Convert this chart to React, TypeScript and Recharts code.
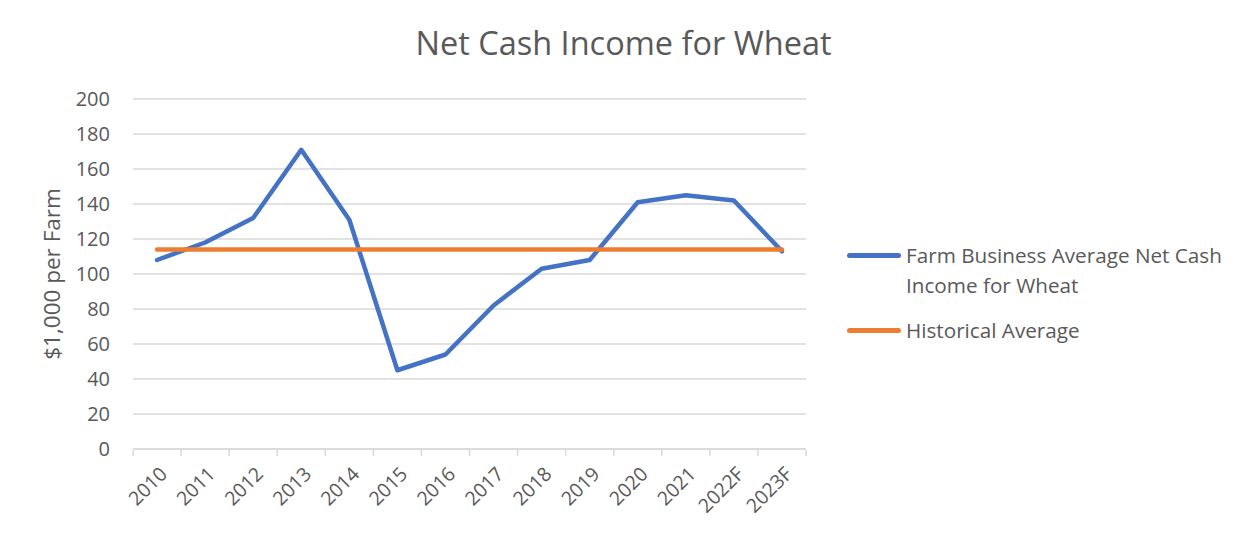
import React from "react";
import { LineChart, Line, XAxis, YAxis, CartesianGrid } from "recharts";

const years = ["2010", "2011", "2012", "2013", "2014", "2015", "2016", "2017", "2018", "2019", "2020", "2021", "2022F", "2023F"];
const netCash = [108, 118, 132, 171, 131, 45, 54, 82, 103, 108, 141, 145, 142, 113];
const historicalAvg = [114, 114, 114, 114, 114, 114, 114, 114, 114, 114, 114, 114, 114, 114];
const yTicks = [0, 20, 40, 60, 80, 100, 120, 140, 160, 180, 200];

const seriesNames = ["Farm Business Average Net Cash Income for Wheat", "Historical Average"];
const seriesColors = ["#4472C4", "#ED7D31"];
const title = "Net Cash Income for Wheat";
const yLabel = "$1,000 per Farm";

const data = years.map((y, i) => ({ year: y, net: netCash[i], avg: historicalAvg[i] }));

const FONT = "'Open Sans', sans-serif";
const TXT = "#595959";
const AXIS = "#d9d9d9";

const XTick = (props: any) => {
  const { x, y, payload, width, visibleTicksCount, index } = props;
  const bw = width / visibleTicksCount;
  const ax = x + 6;
  const ay = y + 19;
  const top = y - 1;
  return (
    <g>
      <line x1={x - bw / 2} x2={x - bw / 2} y1={top} y2={top + 6} stroke={AXIS} strokeWidth={1.5} />
      {index === visibleTicksCount - 1 && (
        <line x1={x + bw / 2} x2={x + bw / 2} y1={top} y2={top + 6} stroke={AXIS} strokeWidth={1.5} />
      )}
      <text
        x={ax}
        y={ay}
        transform={`rotate(-45, ${ax}, ${ay})`}
        textAnchor="end"
        dominantBaseline="central"
        fontFamily={FONT}
        fontSize={19.5}
        fill={TXT}
      >
        {payload.value}
      </text>
    </g>
  );
};

export default function App() {
  return (
    <div style={{ position: "absolute", left: 0, top: 0, width: 1247, height: 543, background: "#fff", fontFamily: FONT }}>
      <div
        style={{
          position: "absolute",
          left: 0,
          width: 1247,
          top: 21,
          textAlign: "center",
          fontSize: 32.5,
          color: TXT,
          fontFamily: FONT,
          lineHeight: "44px",
        }}
      >
        {title}
      </div>
      <LineChart
        width={1247}
        height={543}
        data={data}
        margin={{ top: 99, right: 441, bottom: 14, left: 0 }}
      >
        <CartesianGrid vertical={false} stroke={AXIS} strokeWidth={1.5} />
        <XAxis
          dataKey="year"
          scale="band"
          interval={0}
          height={80}
          stroke={AXIS}
          strokeWidth={1.5}
          tickLine={false}
          tickSize={0}
          tick={<XTick />}
        />
        <YAxis
          domain={[0, 200]}
          ticks={yTicks}
          width={133}
          axisLine={false}
          tickLine={false}
          tickSize={0}
          tickMargin={23}
          tick={{ fontFamily: FONT, fontSize: 20, fill: TXT }}
          label={{
            content: (p: any) => {
              const vb = p.viewBox;
              const cx = vb.x + 51;
              const cy = vb.y + vb.height / 2;
              return (
                <text
                  x={cx}
                  y={cy}
                  transform={`rotate(-90, ${cx}, ${cy})`}
                  textAnchor="middle"
                  dominantBaseline="central"
                  fontFamily={FONT}
                  fontSize={22.5}
                  fill={TXT}
                >
                  {yLabel}
                </text>
              );
            },
          }}
        />
        <Line
          dataKey="net"
          name={seriesNames[0]}
          stroke={seriesColors[0]}
          strokeWidth={4.5}
          dot={false}
          strokeLinecap="round"
          strokeLinejoin="round"
          isAnimationActive={false}
        />
        <Line
          dataKey="avg"
          name={seriesNames[1]}
          stroke={seriesColors[1]}
          strokeWidth={4.5}
          dot={false}
          strokeLinecap="round"
          isAnimationActive={false}
        />
      </LineChart>
      <div style={{ position: "absolute", left: 847, top: 240, width: 395, color: TXT, fontSize: 20.7, fontFamily: FONT }}>
        {[0, 1].map((i) => (
          <div key={i} style={{ position: "relative", paddingLeft: 59, lineHeight: "30px", marginBottom: 15 }}>
            <div
              style={{
                position: "absolute",
                left: 0,
                top: 13,
                width: 54,
                height: 5,
                borderRadius: 3,
                background: seriesColors[i],
              }}
            />
            {seriesNames[i]}
          </div>
        ))}
      </div>
    </div>
  );
}
